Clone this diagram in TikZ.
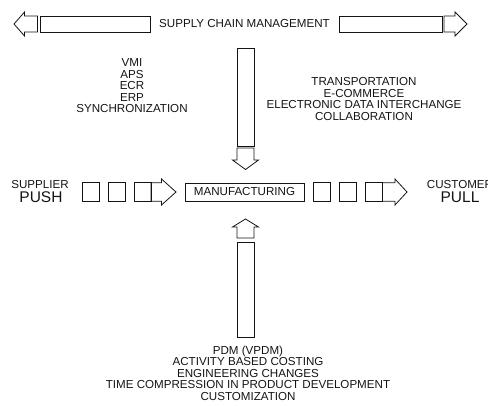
\documentclass[tikz,border=0pt]{standalone}
\usepackage{fontspec}
\setmainfont{Liberation Sans}
\usepackage{tikz}
\usetikzlibrary{arrows.meta, positioning}
\definecolor{ink}{RGB}{20, 20, 20}

\begin{document}
\begin{tikzpicture}[x=1pt, y=-1pt,
  outline/.style={draw=ink, line width=0.8pt, line join=miter},
  bar/.style={draw=ink, line width=0.8pt, inner sep=0pt, minimum height=16pt},
  cell/.style={draw=ink, line width=0.8pt, inner sep=0pt, minimum width=17pt, minimum height=18.5pt},
  caption/.style={text=ink, font=\fontsize{11.6}{11.5}\selectfont, align=center, inner sep=0pt},
  big/.style={text=ink, font=\fontsize{15.5}{15.5}\selectfont, inner sep=0pt}
]
  \useasboundingbox (0,0) rectangle (488,405);

  % Supply chain band
  \node[bar, minimum width=110pt] (barL) at (95,24) {};
  \node[caption] (scm) at (244.5,24) {SUPPLY CHAIN MANAGEMENT};
  \node[bar, minimum width=103pt] (barR) at (390.5,24) {};
  \draw[outline] (14,24) -- (24.5,12) -- (24.5,16) -- (37.5,16) -- (37.5,32) -- (24.5,32) -- (24.5,36) -- cycle;
  \draw[outline] (444,16) -- (455,16) -- (455,12) -- (467,24) -- (455,36) -- (455,32) -- (444,32) -- cycle;

  % Vertical flows
  \node[cell, minimum height=98pt] (topbar) at (245.5,97) {};
  \node[cell, minimum height=95pt] (lowbar) at (245.5,289.5) {};
  \draw[outline] (237,148) -- (254,148) -- (254,160) -- (258.5,160) -- (245.5,169.5) -- (232.5,160) -- (237,160) -- cycle;
  \draw[outline] (237,238) -- (254,238) -- (254,227) -- (258.5,227) -- (245.5,219) -- (232.5,227) -- (237,227) -- cycle;

  % Push / pull row
  \node[caption, draw=ink, line width=0.8pt, minimum width=119pt, minimum height=18pt] (mfg) at (244.5,192) {MANUFACTURING};
  \node[cell] (pushA) at (91,192) {};
  \node[cell, right=8pt of pushA] (pushB) {};
  \node[cell, right=8pt of pushB] (pushC) {};
  \draw[outline] (151,182.75) -- (161.5,182.75) -- (161.5,179) -- (176,192) -- (161.5,205) -- (161.5,201.25) -- (151,201.25) -- cycle;
  \node[cell] (pullA) at (322,192) {};
  \node[cell, right=8pt of pullA] (pullB) {};
  \node[cell, right=8pt of pullB] (pullC) {};
  \draw[outline] (382.5,182.75) -- (395,182.75) -- (395,179) -- (407,192) -- (395,205) -- (395,201.25) -- (382.5,201.25) -- cycle;

  \node[caption] (supplier) at (40,185) {SUPPLIER};
  \node[big] (push) at (41,197) {PUSH};
  \node[caption] (customer) at (460,185) {CUSTOMER};
  \node[big] (pull) at (460,197) {PULL};

  % Lists
  \node[caption] (tools) at (132,86) {VMI\\APS\\ECR\\ERP\\SYNCHRONIZATION};
  \node[caption] (links) at (364,99) {TRANSPORTATION\\E-COMMERCE\\ELECTRONIC DATA INTERCHANGE\\COLLABORATION};
  \node[caption] (design) at (248,373) {PDM (VPDM)\\ACTIVITY BASED COSTING\\ENGINEERING CHANGES\\TIME COMPRESSION IN PRODUCT DEVELOPMENT\\CUSTOMIZATION};
\end{tikzpicture}
\end{document}
